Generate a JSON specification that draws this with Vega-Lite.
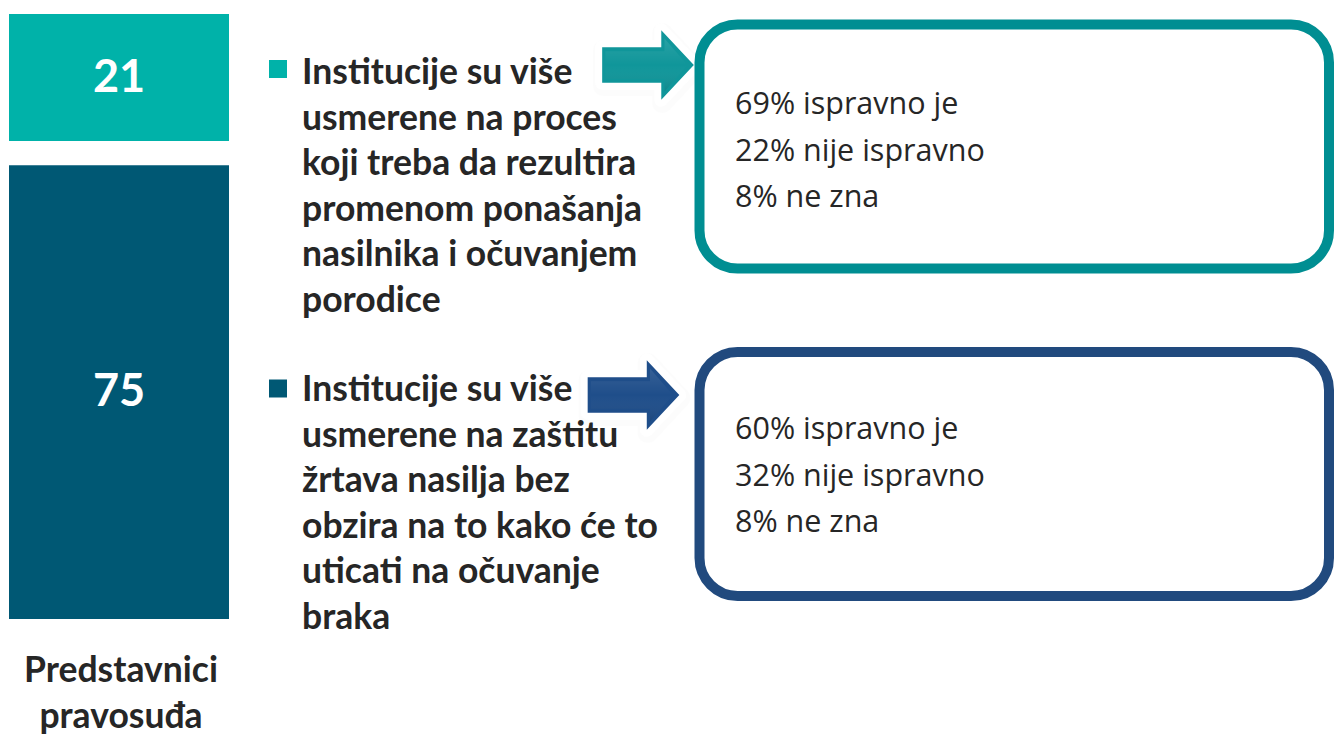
{
  "$schema": "https://vega.github.io/schema/vega-lite/v6.json",
  "width": 1334,
  "height": 734,
  "autosize": {"type": "none"},
  "padding": 0,
  "background": "white",
  "config": {"view": {"stroke": null}, "font": "Lato"},
  "datasets": {
    "bar": [
      {"respondent": "Predstavnici pravosuđa", "key": "proces", "value": 21, "order": 1},
      {"respondent": "Predstavnici pravosuđa", "key": "ostalo", "value": 4, "order": 2},
      {"respondent": "Predstavnici pravosuđa", "key": "zastita", "value": 75, "order": 3}
    ],
    "items": [
      {"key": "proces", "label": "Institucije su više\nusmerene na proces\nkoji treba da rezultira\npromenom ponašanja\nnasilnika i očuvanjem\nporodice", "ispravno": 69, "nije": 22, "nezna": 8},
      {"key": "zastita", "label": "Institucije su više\nusmerene na zaštitu\nžrtava nasilja bez\nobzira na to kako će to\nuticati na očuvanje\nbraka", "ispravno": 60, "nije": 32, "nezna": 8}
    ]
  },
  "layer": [
    {
      "data": {"name": "bar"},
      "mark": {"type": "bar"},
      "encoding": {
        "x": {"field": "respondent", "type": "nominal", "scale": {"type": "band", "range": [9, 229], "paddingInner": 0, "paddingOuter": 0}, "axis": null},
        "y": {"field": "value", "type": "quantitative", "stack": "zero", "scale": {"domain": [0, 100], "range": [14, 619], "nice": false, "zero": false}, "axis": null},
        "order": {"field": "order", "type": "quantitative"},
        "color": {"field": "key", "type": "nominal", "scale": {"domain": ["proces", "ostalo", "zastita"], "range": ["#00B2A9", "#FFFFFF", "#005874"]}, "legend": null}
      }
    },
    {
      "data": {"name": "bar"},
      "transform": [
        {"stack": "value", "groupby": ["respondent"], "sort": [{"field": "order", "order": "ascending"}], "as": ["v0", "v1"]},
        {"filter": "datum.key !== 'ostalo'"},
        {"calculate": "(datum.v0 + datum.v1) / 2", "as": "mid"}
      ],
      "mark": {"type": "text", "font": "Lato", "fontWeight": "bold", "fontSize": 45, "color": "#FFFFFF", "align": "center", "baseline": "middle"},
      "encoding": {
        "x": {"field": "respondent", "type": "nominal", "scale": {"type": "band", "range": [9, 229], "paddingInner": 0, "paddingOuter": 0}, "axis": null},
        "y": {"field": "mid", "type": "quantitative", "scale": {"domain": [0, 100], "range": [14, 619], "nice": false, "zero": false}, "axis": null},
        "text": {"field": "value", "type": "quantitative"}
      }
    },
    {
      "data": {"name": "bar"},
      "transform": [{"filter": "datum.order === 1"}],
      "mark": {"type": "text", "font": "Lato", "fontWeight": "bold", "fontSize": 35.5, "color": "#262626", "align": "center", "baseline": "alphabetic", "lineBreak": " ", "lineHeight": 46, "dy": 63},
      "encoding": {
        "x": {"field": "respondent", "type": "nominal", "scale": {"type": "band", "range": [11, 231], "paddingInner": 0, "paddingOuter": 0}, "axis": null},
        "y": {"datum": 100, "type": "quantitative", "scale": {"domain": [0, 100], "range": [14, 619], "nice": false, "zero": false}, "axis": null},
        "text": {"field": "respondent", "type": "nominal"}
      }
    },
    {
      "data": {"name": "items"},
      "mark": {"type": "square", "filled": true, "size": 324, "opacity": 1},
      "encoding": {
        "x": {"datum": "legend", "type": "nominal", "scale": {"type": "band", "domain": ["legend"], "range": [269, 287], "paddingInner": 0, "paddingOuter": 0}, "axis": null},
        "y": {"field": "key", "type": "nominal", "scale": {"type": "point", "domain": ["proces", "zastita"], "range": [69, 388.5], "padding": 0}, "axis": null},
        "color": {"field": "key", "type": "nominal", "scale": {"domain": ["proces", "zastita"], "range": ["#00B2A9", "#005874"]}, "legend": null}
      }
    },
    {
      "data": {"name": "items"},
      "mark": {"type": "text", "font": "Lato", "fontWeight": "bold", "fontSize": 35.5, "color": "#262626", "align": "left", "baseline": "alphabetic", "lineBreak": "\n", "lineHeight": 45.6},
      "encoding": {
        "x": {"datum": "label", "type": "nominal", "scale": {"type": "band", "domain": ["label"], "range": [301, 303], "paddingInner": 0, "paddingOuter": 0}, "axis": null},
        "y": {"field": "key", "type": "nominal", "scale": {"type": "point", "domain": ["proces", "zastita"], "range": [84, 401], "padding": 0}, "axis": null},
        "text": {"field": "label", "type": "nominal"}
      }
    },
    {
      "data": {"name": "items"},
      "mark": {"type": "point", "shape": "M-1,-0.39L0.29,-0.39L0.29,-0.76L1,0L0.29,0.76L0.29,0.39L-1,0.39Z", "filled": true, "size": 8400, "color": "#000000", "opacity": 0.1, "stroke": "#000000", "strokeWidth": 20, "strokeOpacity": 0.1, "strokeJoin": "round"},
      "encoding": {
        "x": {"field": "key", "type": "nominal", "scale": {"type": "point", "domain": ["proces", "zastita"], "range": [649, 634.5], "padding": 0}, "axis": null},
        "y": {"field": "key", "type": "nominal", "scale": {"type": "point", "domain": ["proces", "zastita"], "range": [68, 398], "padding": 0}, "axis": null}
      }
    },
    {
      "data": {"name": "items"},
      "mark": {"type": "point", "shape": "M-1,-0.39L0.29,-0.39L0.29,-0.76L1,0L0.29,0.76L0.29,0.39L-1,0.39Z", "filled": true, "size": 8400, "color": "#FFFFFF", "opacity": 1, "stroke": "#FFFFFF", "strokeWidth": 14, "strokeJoin": "round"},
      "encoding": {
        "x": {"field": "key", "type": "nominal", "scale": {"type": "point", "domain": ["proces", "zastita"], "range": [648, 633.5], "padding": 0}, "axis": null},
        "y": {"field": "key", "type": "nominal", "scale": {"type": "point", "domain": ["proces", "zastita"], "range": [65, 395], "padding": 0}, "axis": null}
      }
    },
    {
      "data": {"name": "items"},
      "mark": {"type": "point", "shape": "M-1,-0.39L0.29,-0.39L0.29,-0.76L1,0L0.29,0.76L0.29,0.39L-1,0.39Z", "filled": true, "size": 8400, "opacity": 1, "strokeWidth": 0},
      "encoding": {
        "x": {"field": "key", "type": "nominal", "scale": {"type": "point", "domain": ["proces", "zastita"], "range": [648, 633.5], "padding": 0}, "axis": null},
        "y": {"field": "key", "type": "nominal", "scale": {"type": "point", "domain": ["proces", "zastita"], "range": [65, 395], "padding": 0}, "axis": null},
        "color": {"field": "key", "type": "nominal", "scale": {"domain": ["proces", "zastita"], "range": ["#10969A", "#1F4E8A"]}, "legend": null}
      }
    },
    {
      "data": {"name": "items"},
      "mark": {"type": "point", "shape": "M-0.93,-0.3L0.36,-0.3L0.36,-0.58L0.86,0L0.36,0.58L0.36,0.3L-0.93,0.3Z", "filled": true, "size": 8400, "opacity": 1, "strokeWidth": 0, "fill": {"gradient": "linear", "x1": 0, "y1": 0, "x2": 0, "y2": 1, "stops": [{"offset": 0, "color": "rgba(255,255,255,0.10)"}, {"offset": 0.5, "color": "rgba(255,255,255,0.0)"}, {"offset": 1, "color": "rgba(0,0,0,0.10)"}]}},
      "encoding": {
        "x": {"field": "key", "type": "nominal", "scale": {"type": "point", "domain": ["proces", "zastita"], "range": [648, 633.5], "padding": 0}, "axis": null},
        "y": {"field": "key", "type": "nominal", "scale": {"type": "point", "domain": ["proces", "zastita"], "range": [65, 395], "padding": 0}, "axis": null}
      }
    },
    {
      "data": {"name": "items"},
      "mark": {"type": "rect", "fill": "#FFFFFF", "strokeWidth": 10, "cornerRadius": 38},
      "encoding": {
        "x": {"datum": "box", "type": "nominal", "scale": {"type": "band", "domain": ["box"], "range": [699.5, 1329], "paddingInner": 0, "paddingOuter": 0}, "axis": null},
        "y": {"field": "key", "type": "nominal", "scale": {"type": "band", "domain": ["proces", "zastita"], "range": [24.5, 596], "paddingInner": 0.255, "paddingOuter": 0}, "axis": null},
        "stroke": {"field": "key", "type": "nominal", "scale": {"domain": ["proces", "zastita"], "range": ["#008E92", "#214A7E"]}, "legend": null}
      }
    },
    {
      "data": {"name": "items"},
      "transform": [
        {"calculate": "datum.ispravno + '% ispravno je\\n' + datum.nije + '% nije ispravno\\n' + datum.nezna + '% ne zna'", "as": "odgovori"}
      ],
      "mark": {"type": "text", "font": "Open Sans", "fontSize": 30.5, "color": "#262626", "align": "left", "baseline": "alphabetic", "lineBreak": "\n", "lineHeight": 46.5},
      "encoding": {
        "x": {"datum": "boxtext", "type": "nominal", "scale": {"type": "band", "domain": ["boxtext"], "range": [734, 736], "paddingInner": 0, "paddingOuter": 0}, "axis": null},
        "y": {"field": "key", "type": "nominal", "scale": {"type": "point", "domain": ["proces", "zastita"], "range": [114, 439], "padding": 0}, "axis": null},
        "text": {"field": "odgovori", "type": "nominal"}
      }
    }
  ],
  "resolve": {"scale": {"x": "independent", "y": "independent", "color": "independent", "stroke": "independent"}}
}
